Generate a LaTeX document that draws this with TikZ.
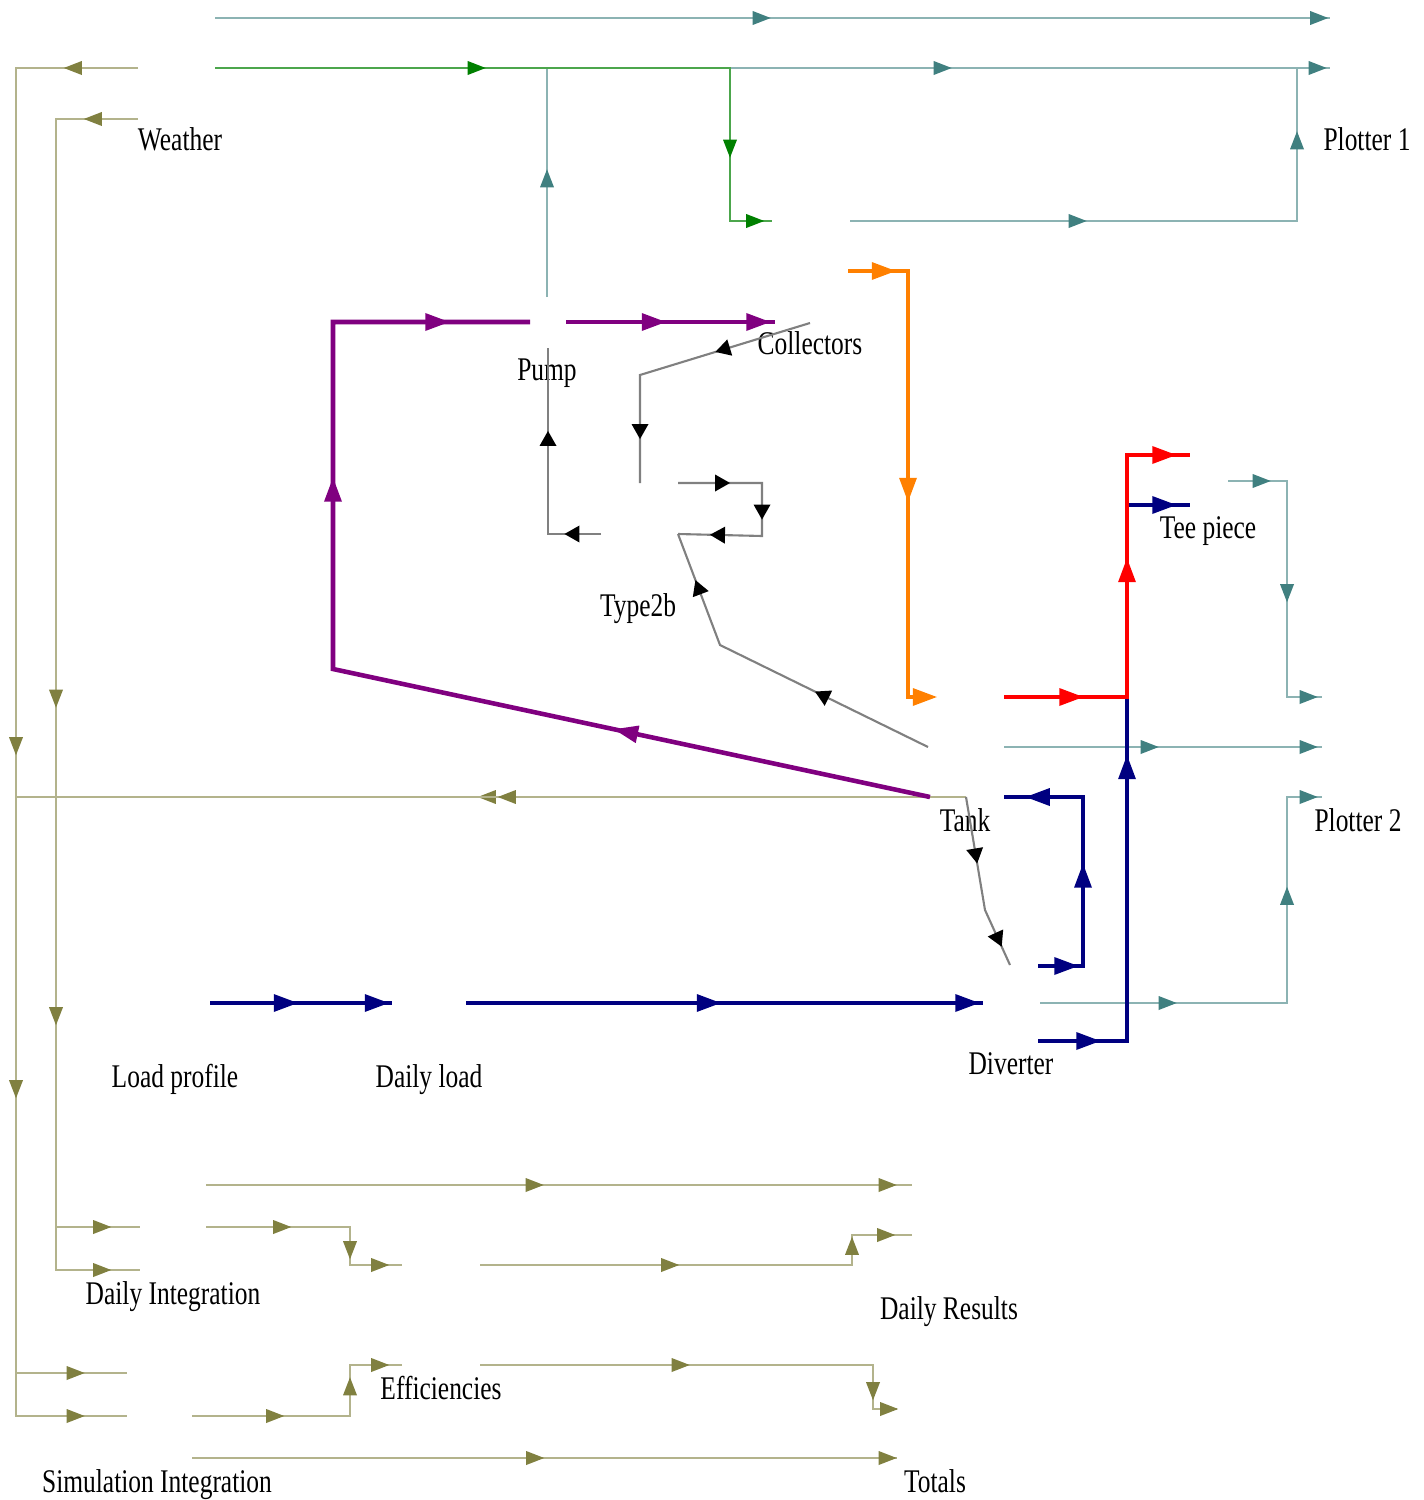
\documentclass[tikz,border=0pt]{standalone}
\usepackage{fontspec}
\setmainfont{Liberation Serif}[FakeStretch=0.77]
\usepackage{tikz}
\usetikzlibrary{shapes.geometric}
\definecolor{teal1}{RGB}{64,128,128}
\definecolor{olive1}{RGB}{128,128,64}
\definecolor{green1}{RGB}{0,128,0}
\definecolor{purple1}{RGB}{128,0,128}
\definecolor{orange1}{RGB}{255,128,0}
\definecolor{red1}{RGB}{255,0,0}
\definecolor{navy1}{RGB}{0,0,128}
\definecolor{grey1}{RGB}{128,128,128}

\tikzset{
  ah/.style={isosceles triangle, isosceles triangle stretches, inner sep=0pt, draw=none,
    minimum width=0.14cm, minimum height=0.18cm, sloped, allow upside down},
  ahbig/.style={ah, minimum width=0.18cm, minimum height=0.24cm},
  lbl/.style={font=\fontsize{9.4}{11}\selectfont, inner sep=0pt, anchor=base},
  tealline/.style={draw=teal1!60, line width=0.6pt, every node/.style={ah, fill=teal1}},
  greenline/.style={draw=green1!70, line width=0.6pt, every node/.style={ah, fill=green1}},
  oliveline/.style={draw=olive1!60, line width=0.6pt, every node/.style={ah, fill=olive1}},
  greyline/.style={draw=grey1, line width=0.6pt, every node/.style={ah, minimum width=0.17cm, minimum height=0.15cm, fill=black}},
  pipe/.style={line width=1.3pt, line join=miter, every node/.style={ahbig, fill=#1}, draw=#1},
}

\begin{document}
\begin{tikzpicture}[x=0.01cm, y=-0.01cm]
  \useasboundingbox (0,0) rectangle (1423,1500);

  % Labels of the components
  \node[lbl] (weather) at (180,151) {Weather};
  \node[lbl] (plotter1) at (1367,151) {Plotter 1};
  \node[lbl] (pump) at (547,380) {Pump};
  \node[lbl] (collectors) at (810,354) {Collectors};
  \node[lbl] (type2b) at (638,616) {Type2b};
  \node[lbl] (teepiece) at (1208,538) {Tee piece};
  \node[lbl] (tank) at (965,831) {Tank};
  \node[lbl] (plotter2) at (1358,831) {Plotter 2};
  \node[lbl] (diverter) at (1011,1074) {Diverter};
  \node[lbl] (loadprofile) at (175,1087) {Load profile};
  \node[lbl] (dailyload) at (429,1087) {Daily load};
  \node[lbl] (dailyint) at (173,1304) {Daily Integration};
  \node[lbl] (dailyres) at (949,1319) {Daily Results};
  \node[lbl] (effic) at (441,1399) {Efficiencies};
  \node[lbl] (simint) at (157,1492) {Simulation Integration};
  \node[lbl] (totals) at (935,1492) {Totals};

  % Ports
  \coordinate (wea-o1) at (215,18);
  \coordinate (wea-o2) at (215,68);
  \coordinate (wea-o3) at (138,68);
  \coordinate (wea-o4) at (138,119);
  \coordinate (pl1-i1) at (1330,18);
  \coordinate (pl1-i2) at (1330,68);
  \coordinate (col-i1) at (772,221);
  \coordinate (col-i2) at (775,322);
  \coordinate (col-o1) at (850,221);
  \coordinate (col-o2) at (848,271);
  \coordinate (col-o3) at (810,323);
  \coordinate (pmp-i1) at (530,322);
  \coordinate (pmp-o1) at (566,322);
  \coordinate (pmp-o2) at (547,297);
  \coordinate (pmp-i2) at (548,348);
  \coordinate (t2b-i1) at (640,483);
  \coordinate (t2b-o1) at (678,483);
  \coordinate (t2b-i2) at (678,534);
  \coordinate (t2b-o2) at (601,534);
  \coordinate (tnk-i1) at (930,697);
  \coordinate (tnk-o1) at (930,797);
  \coordinate (tnk-o2) at (928,747);
  \coordinate (tnk-o3) at (966,797);
  \coordinate (tnk-o4) at (1004,697);
  \coordinate (tnk-o5) at (1004,747);
  \coordinate (tnk-i2) at (1004,797);
  \coordinate (tee-i1) at (1190,455);
  \coordinate (tee-i2) at (1190,505);
  \coordinate (tee-o1) at (1228,481);
  \coordinate (pl2-i1) at (1322,697);
  \coordinate (pl2-i2) at (1322,747);
  \coordinate (pl2-i3) at (1322,797);
  \coordinate (div-i1) at (1010,965);
  \coordinate (div-i2) at (983,1003);
  \coordinate (div-o1) at (1038,966);
  \coordinate (div-o2) at (1038,1041);
  \coordinate (div-o3) at (1040,1003);
  \coordinate (lp-o1) at (210,1003);
  \coordinate (dl-i1) at (392,1003);
  \coordinate (dl-o1) at (466,1003);
  \coordinate (di-i1) at (140,1227);
  \coordinate (di-i2) at (140,1270);
  \coordinate (di-o1) at (206,1185);
  \coordinate (di-o2) at (206,1227);
  \coordinate (dr-i1) at (912,1185);
  \coordinate (dr-i2) at (912,1235);
  \coordinate (eff-i1) at (402,1265);
  \coordinate (eff-i2) at (402,1365);
  \coordinate (eff-o1) at (480,1265);
  \coordinate (eff-o2) at (480,1365);
  \coordinate (si-i1) at (127,1373);
  \coordinate (si-i2) at (127,1416);
  \coordinate (si-o1) at (192,1416);
  \coordinate (si-o2) at (192,1458);
  \coordinate (tot-i1) at (897,1409);
  \coordinate (tot-i2) at (897,1458);

  % Plotter connections
  \draw[tealline] (wea-o1) -- node{} (1300,18) -- node{} (pl1-i1);
  \draw[tealline] (pmp-o2) -- node{} (547,68) -- node{} (pl1-i2);
  \draw[tealline] (col-o1) -- node{} (1297,221) -- node{} (1297,68) -- node{} (pl1-i2);
  \draw[tealline] (tee-o1) -- node{} (1287,481) -- node{} (1287,697) -- node{} (pl2-i1);
  \draw[tealline] (tnk-o5) -- node{} (1287,747) -- node{} (pl2-i2);
  \draw[tealline] (div-o3) -- node{} (1287,1003) -- node{} (1287,797) -- node{} (pl2-i3);

  % Weather to collectors
  \draw[greenline] (wea-o2) -- node{} (730,68) -- node{} (730,221) -- node{} (col-i1);

  % Integrators
  \draw[oliveline] (wea-o3) -- node{} (16,68) -- node{} (16,1416) -- node{} (si-i2);
  \draw[oliveline] (wea-o4) -- node{} (56,119) -- node{} (56,1270) -- node{} (di-i2);
  \draw[oliveline] (tnk-o3) -- node{} (16,797) -- node{} (16,1373) -- node{} (si-i1);
  \draw[oliveline] (tnk-o3) -- node{} (56,797) -- node{} (56,1227) -- node{} (di-i1);
  \draw[oliveline] (di-o1) -- node{} (855,1185) -- node{} (dr-i1);
  \draw[oliveline] (di-o2) -- node{} (350,1227) -- node{} (350,1265) -- node{} (eff-i1);
  \draw[oliveline] (eff-o1) -- node{} (852,1265) -- node{} (852,1235) -- node{} (dr-i2);
  \draw[oliveline] (si-o1) -- node{} (350,1416) -- node{} (350,1365) -- node{} (eff-i2);
  \draw[oliveline] (eff-o2) -- node{} (873,1365) -- node{} (873,1409) -- node{} (tot-i1);
  \draw[oliveline] (si-o2) -- node{} (870,1458) -- node{} (tot-i2);

  % Controller signals
  \draw[greyline] (col-o3) -- node{} (640,375) -- node{} (t2b-i1);
  \draw[greyline] (t2b-o1) -- node{} (762,483) -- node{} (762,536) -- node{} (t2b-i2);
  \draw[greyline] (t2b-o2) -- node{} (548,534) -- node{} (pmp-i2);
  \draw[greyline] (tnk-o2) -- node{} (720,645) -- node{} (t2b-i2);
  \draw[greyline] (tnk-o3) -- node{} (985,910) -- node{} (div-i1);

  % Collector loop
  \draw[pipe=orange1] (col-o2) -- node{} (908,271) -- node{} (908,697) -- node{} (tnk-i1);
  \draw[pipe=purple1] (tnk-o1) -- node{} (333,669) -- node{} (333,322) -- node{} (pmp-i1);
  \draw[pipe=purple1] (pmp-o1) -- node{} (730,322) -- node{} (col-i2);

  % Load side
  \draw[pipe=navy1] (lp-o1) -- node{} (350,1003) -- node{} (dl-i1);
  \draw[pipe=navy1] (dl-o1) -- node{} (940,1003) -- node{} (div-i2);
  \draw[pipe=navy1] (div-o1) -- node{} (1083,966) -- node{} (1083,797) -- node{} (tnk-i2);
  \draw[pipe=navy1] (div-o2) -- node{} (1127,1041) -- node{} (1127,505) -- node{} (tee-i2);
  \draw[pipe=red1] (tnk-o4) -- node{} (1127,697) -- node{} (1127,455) -- node{} (tee-i1);
\end{tikzpicture}
\end{document}
